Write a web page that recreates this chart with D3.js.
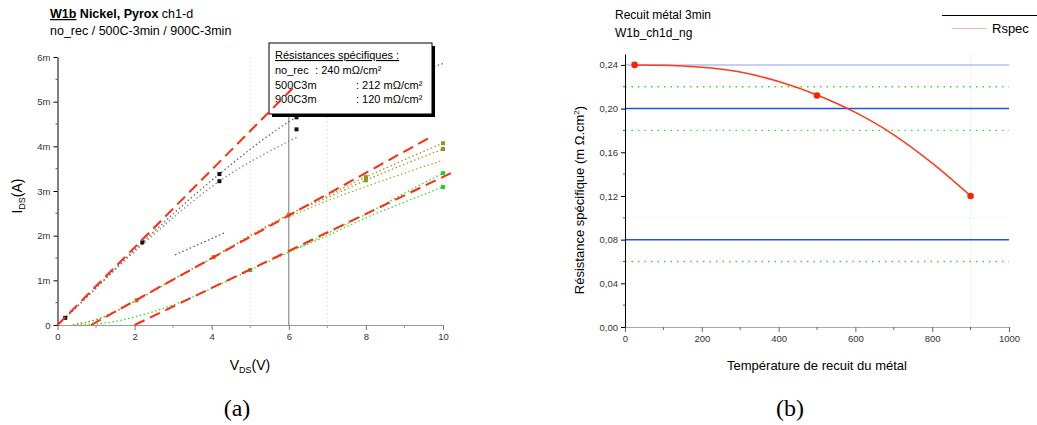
<!DOCTYPE html>
<html>
<head>
<meta charset="utf-8">
<script src="https://cdn.jsdelivr.net/npm/d3@7"></script>
<style>
  body { margin: 0; background: #fff; }
  svg { font-family: "Liberation Sans", Arial, sans-serif; }
  .axis text { font-size: 9.5px; fill: #333; }
</style>
</head>
<body>
<svg id="chart" width="1037" height="425"></svg>
<script>
// ---- (a) I-V curves, values in mA ----
const vdsTicks = [0, 2, 4, 6, 8, 10];
const idsTicks = [0, 1, 2, 3, 4, 5, 6];

const noRecPoints = [[0.2, 0.16], [2.2, 1.85], [4.2, 3.22], [4.2, 3.38], [6.2, 4.38], [6.2, 4.65]];
const noRecCurveA = [[0, 0], [0.2, 0.16], [2.2, 1.85], [4.2, 3.38], [6.2, 4.65], [8, 5.3], [10, 5.85]];
const noRecCurveB = [[0, 0], [0.2, 0.16], [2.2, 1.8], [4.2, 3.22], [6.2, 4.2]];
const noRecCurveC = [[3.05, 1.57], [4.35, 2.07]];

const c500Points = [[2.05, 0.55], [4.05, 1.52], [6, 2.47], [8, 3.31], [8, 3.24], [10, 4.07], [10, 3.94]];
const c500CurveA = [[0.4, 0], [1, 0.12], [2.05, 0.55], [3, 1.02], [4.05, 1.52], [5, 2.0], [6, 2.47], [7, 2.9], [8, 3.31], [9, 3.7], [10, 4.07]];
const c500CurveB = [[0.4, 0], [1, 0.12], [2.05, 0.55], [3, 1.02], [4.05, 1.52], [5, 2.0], [6, 2.47], [7, 2.85], [8, 3.24], [9, 3.6], [10, 3.94]];
const c500CurveC = [[6, 2.42], [7, 2.78], [8, 3.1], [9, 3.4], [10, 3.69]];

const c900Points = [[5, 1.23], [10, 3.4], [10, 3.09]];
const c900CurveA = [[0.6, 0], [1.5, 0.08], [2, 0.18], [3, 0.45], [4, 0.82], [5, 1.23], [6, 1.63], [7, 2.05], [8, 2.48], [9, 2.95], [10, 3.4]];
const c900CurveB = [[6, 1.63], [7, 2.0], [8, 2.4], [9, 2.75], [10, 3.09]];

const fitNoRec = [[0, 0], [6.1, 5.3]];
const fit500 = [[0.87, 0], [9.66, 4.2]];
const fit900 = [[2.0, 0], [10.25, 3.42]];

const legendLines = [
  ["no_rec", " :  240 mΩ/cm²"],
  ["500C3m", ":  212 mΩ/cm²"],
  ["900C3m", ":  120 mΩ/cm²"]
];

// ---- (b) specific resistance vs anneal temperature ----
const tempTicks = [0, 200, 400, 600, 800, 1000];
const rTicks = [0, 0.04, 0.08, 0.12, 0.16, 0.20, 0.24];
const temps = [25, 500, 900];
const rspec = [0.24, 0.212, 0.12];
const fitTemps = [25, 100, 200, 300, 400, 500, 600, 700, 800, 900];
const fitRspec = [0.24, 0.2397, 0.2378, 0.2335, 0.2248, 0.2125, 0.1965, 0.176, 0.15, 0.12];
const blueLevels = [0.20, 0.08];
const greenLevels = [0.22, 0.18, 0.06];

const svg = d3.select("#chart");
const red = "#ff2a10";

// ================= (a) =================
const xa = d3.scaleLinear().domain([0, 10]).range([57.5, 443]);
const ya = d3.scaleLinear().domain([0, 6]).range([325, 57]);
const ga = svg.append("g");

// faint grid
ga.selectAll(".vgrid").data([5, 7]).join("line")
  .attr("x1", d => xa(d)).attr("x2", d => xa(d))
  .attr("y1", ya(6)).attr("y2", ya(0))
  .attr("stroke", "#d4d4d4").attr("stroke-dasharray", "1,3");
ga.append("line")
  .attr("x1", xa(6)).attr("x2", xa(6)).attr("y1", ya(6)).attr("y2", ya(0))
  .attr("stroke", "#777").attr("stroke-width", 1);

// axes
const xAxisA = ga.append("g").attr("class", "axis")
  .attr("transform", `translate(0,${ya(0)})`)
  .call(d3.axisBottom(xa).tickValues(vdsTicks).tickSize(5).tickSizeOuter(0).tickFormat(d3.format("d")));
xAxisA.select(".domain").attr("stroke", "#999");
xAxisA.selectAll(".tick line").attr("stroke", "#777");
xAxisA.selectAll(".minor").data([1, 3, 5, 7, 9]).join("line")
  .attr("x1", d => xa(d)).attr("x2", d => xa(d)).attr("y1", 0).attr("y2", 3).attr("stroke", "#999");

const yAxisA = ga.append("g").attr("class", "axis")
  .attr("transform", `translate(${xa(0)},0)`)
  .call(d3.axisLeft(ya).tickValues(idsTicks).tickSize(4).tickSizeOuter(0).tickFormat(d => d === 0 ? "0" : d + "m"));
yAxisA.selectAll(".minor").data([0.5, 1.5, 2.5, 3.5, 4.5, 5.5]).join("line")
  .attr("x1", -2).attr("x2", 0).attr("y1", d => ya(d)).attr("y2", d => ya(d)).attr("stroke", "#555");

const lineA = d3.line().x(d => xa(d[0])).y(d => ya(d[1])).curve(d3.curveMonotoneX);
const straight = d3.line().x(d => xa(d[0])).y(d => ya(d[1]));

// measured curves
[[noRecCurveA, "#666"], [noRecCurveB, "#888"], [noRecCurveC, "#555"],
 [c500CurveA, "#a39a2a"], [c500CurveB, "#a39a2a"], [c500CurveC, "#b0a640"],
 [c900CurveA, "#22e022"], [c900CurveB, "#33e033"]].forEach(([data, col]) => {
  ga.append("path").attr("d", lineA(data)).attr("fill", "none")
    .attr("stroke", col).attr("stroke-width", 1.3).attr("stroke-dasharray", "1.5,2.5");
});

// markers
[[noRecPoints, "#111"], [c500Points, "#9a8f20"], [c900Points, "#22d022"]].forEach(([pts, col]) => {
  ga.selectAll(null).data(pts).join("rect")
    .attr("x", d => xa(d[0]) - 2).attr("y", d => ya(d[1]) - 2)
    .attr("width", 4).attr("height", 4).attr("fill", col);
});

// legend box
const lg = ga.append("g");
lg.append("rect").attr("x", 272).attr("y", 46).attr("width", 163).attr("height", 71).attr("fill", "#000");
lg.append("rect").attr("x", 269).attr("y", 43).attr("width", 163).attr("height", 71)
  .attr("fill", "#fff").attr("stroke", "#000").attr("stroke-width", 1);
lg.append("text").attr("x", 275).attr("y", 59).attr("font-size", 11)
  .attr("text-decoration", "underline").text("Résistances spécifiques :");
lg.selectAll(".lt").data(legendLines).join("text")
  .attr("y", (d, i) => 74 + i * 14.5).attr("font-size", 11)
  .each(function (d, i) {
    const t = d3.select(this);
    t.append("tspan").attr("x", 275).text(d[0]);
    t.append("tspan").attr("x", i === 0 ? 312 : 356).text(d[1]);
  });

// fitted red dashed lines (drawn above the legend)
[fitNoRec, fit500, fit900].forEach(data => {
  ga.append("path").attr("d", straight(data)).attr("fill", "none")
    .attr("stroke", red).attr("stroke-width", 2).attr("stroke-dasharray", "11,6");
});

// titles
const ta = ga.append("text").attr("x", 50).attr("y", 18).attr("font-size", 12.5);
ta.append("tspan").attr("font-weight", "bold").attr("text-decoration", "underline").text("W1b");
ta.append("tspan").attr("font-weight", "bold").text("  Nickel, Pyrox");
ta.append("tspan").text("  ch1-d");
ga.append("text").attr("x", 50).attr("y", 35).attr("font-size", 12.5).text("no_rec / 500C-3min  / 900C-3min");

const xl = ga.append("text").attr("x", 250).attr("y", 370).attr("text-anchor", "middle").attr("font-size", 14);
xl.append("tspan").text("V");
xl.append("tspan").attr("font-size", 9).attr("dy", 3).text("DS");
xl.append("tspan").attr("dy", -3).text("(V)");

const yl = ga.append("text").attr("transform", "translate(22,196) rotate(-90)")
  .attr("text-anchor", "middle").attr("font-size", 14);
yl.append("tspan").text("I");
yl.append("tspan").attr("font-size", 9).attr("dy", 3).text("DS");
yl.append("tspan").attr("dy", -3).text("(A)");

// ================= (b) =================
const xb = d3.scaleLinear().domain([0, 1000]).range([625, 1009]);
const yb = d3.scaleLinear().domain([0, 0.25]).range([327, 54]);
const gb = svg.append("g");

gb.append("line").attr("x1", xb(900)).attr("x2", xb(900)).attr("y1", yb(0.25)).attr("y2", yb(0))
  .attr("stroke", "#cdeccd").attr("stroke-dasharray", "1,3");
gb.append("line").attr("x1", xb(0)).attr("x2", xb(1000)).attr("y1", yb(0.10)).attr("y2", yb(0.10))
  .attr("stroke", "#cdeccd").attr("stroke-dasharray", "1,3");
gb.selectAll(".green").data(greenLevels).join("line")
  .attr("x1", xb(0)).attr("x2", xb(1000)).attr("y1", d => yb(d)).attr("y2", d => yb(d))
  .attr("stroke", "#2fdc2f").attr("stroke-width", 1.3).attr("stroke-dasharray", "1.5,5");
gb.selectAll(".blue").data(blueLevels).join("line")
  .attr("x1", xb(0)).attr("x2", xb(1000)).attr("y1", d => yb(d)).attr("y2", d => yb(d))
  .attr("stroke", "#2550ee").attr("stroke-width", 1.5);
gb.append("line").attr("x1", xb(0)).attr("x2", xb(1000)).attr("y1", yb(0.24)).attr("y2", yb(0.24))
  .attr("stroke", "#c6cef4").attr("stroke-width", 2);

const xAxisB = gb.append("g").attr("class", "axis")
  .attr("transform", `translate(0,${yb(0)})`)
  .call(d3.axisBottom(xb).tickValues(tempTicks).tickSize(5).tickSizeOuter(0).tickFormat(d3.format("d")));
xAxisB.select(".domain").attr("stroke", "#aaa");
xAxisB.selectAll(".tick line").attr("stroke", "#666");
xAxisB.selectAll(".minor").data([100, 300, 500, 700, 900]).join("line")
  .attr("x1", d => xb(d)).attr("x2", d => xb(d)).attr("y1", 0).attr("y2", 3).attr("stroke", "#666");

const yAxisB = gb.append("g").attr("class", "axis")
  .attr("transform", `translate(${xb(0)},0)`)
  .call(d3.axisLeft(yb).tickValues(rTicks).tickSize(4).tickSizeOuter(0)
    .tickFormat(d => d3.format(".2f")(d).replace(".", ",")));
yAxisB.selectAll(".minor").data([0.02, 0.06, 0.10, 0.14, 0.18, 0.22]).join("line")
  .attr("x1", -2).attr("x2", 0).attr("y1", d => yb(d)).attr("y2", d => yb(d)).attr("stroke", "#555");

const fitLine = d3.line().x((d, i) => xb(fitTemps[i])).y(d => yb(d)).curve(d3.curveMonotoneX);
gb.append("path").attr("d", fitLine(fitRspec)).attr("fill", "none")
  .attr("stroke", "#ff3a1a").attr("stroke-width", 1.5);
gb.selectAll(".pt").data(rspec).join("circle")
  .attr("cx", (d, i) => xb(temps[i])).attr("cy", d => yb(d)).attr("r", 3.3).attr("fill", "#ff2000");

gb.append("text").attr("x", 615).attr("y", 19).attr("font-size", 12).text("Recuit métal 3min");
gb.append("text").attr("x", 615).attr("y", 37).attr("font-size", 12).text("W1b_ch1d_ng");

// legend
gb.append("line").attr("x1", 942).attr("x2", 1037).attr("y1", 15.5).attr("y2", 15.5).attr("stroke", "#000");
gb.append("line").attr("x1", 952).attr("x2", 987).attr("y1", 28.5).attr("y2", 28.5).attr("stroke", "#f6b4b0").attr("stroke-width", 1.2);
gb.append("text").attr("x", 992).attr("y", 33).attr("font-size", 13).text("Rspec");

gb.append("text").attr("x", 817).attr("y", 370).attr("text-anchor", "middle").attr("font-size", 13)
  .text("Température de recuit du métal");
const ylb = gb.append("text").attr("transform", "translate(584,200) rotate(-90)")
  .attr("text-anchor", "middle").attr("font-size", 13);
ylb.append("tspan").text("Résistance spécifique (m    Ω.cm");
ylb.append("tspan").attr("font-size", 8).attr("dy", -5).text("2");
ylb.append("tspan").attr("dy", 5).text(")");

// captions
svg.selectAll(".cap").data([["(a)", 237], ["(b)", 790]]).join("text")
  .attr("x", d => d[1]).attr("y", 416).attr("text-anchor", "middle")
  .attr("font-family", "'Liberation Serif', 'Times New Roman', serif").attr("font-size", 24)
  .text(d => d[0]);
</script>
</body>
</html>
